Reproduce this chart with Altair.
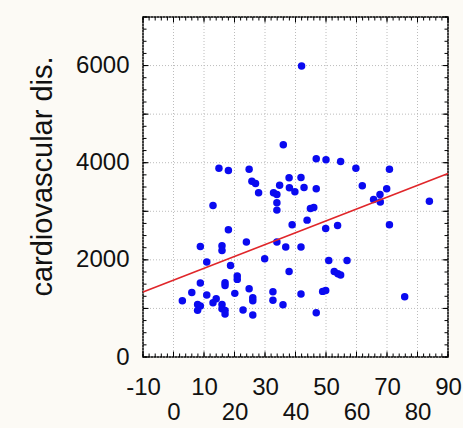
import altair as alt
import pandas as pd

# ---- data ----
x_vals = [42, 36.0, 46.8, 50.0, 54.8, 14.9, 18.0, 24.8, 59.8, 70.8,
          37.9, 41.8, 25.7, 26.9, 34.8, 38.0, 42.8, 46.8, 61.9, 69.9,
          27.9, 32.8, 33.9, 39.8, 67.7, 65.6, 67.8, 83.9, 33.9, 12.95,
          33.9, 44.9, 46.0, 43.8, 18.0, 38.9, 49.9, 53.8, 70.8, 23.9,
          33.9, 8.8, 15.9, 15.9, 36.8, 41.8, 29.9, 10.9, 50.9, 56.9,
          18.7, 37.9, 52.7, 53.9, 54.8, 20.9, 20.9, 8.8, 16.9, 16.9,
          24.8, 6.0, 20.1, 32.6, 48.9, 49.9, 10.9, 41.8, 75.8, 2.9,
          14.0, 12.95, 26.0, 26.0, 32.6, 7.9, 8.8, 15.9, 35.9, 7.9,
          15.9, 16.9, 16.9, 22.8, 26.0, 46.8]
y_vals = [5990, 4368, 4080, 4059, 4025, 3888, 3840, 3867, 3888, 3867,
          3689, 3696, 3620, 3573, 3538, 3483, 3490, 3463, 3524, 3463,
          3381, 3381, 3346, 3401, 3346, 3243, 3189, 3209, 3175, 3120,
          3024, 3058, 3079, 2818, 2619, 2722, 2647, 2709, 2722, 2366,
          2366, 2277, 2290, 2194, 2263, 2263, 2023, 1954, 1989, 1989,
          1886, 1762, 1762, 1714, 1687, 1666, 1598, 1522, 1529, 1474,
          1406, 1330, 1310, 1344, 1351, 1371, 1275, 1296, 1241, 1159,
          1200, 1118, 1221, 1159, 1166, 1083, 1049, 1083, 1077, 960,
          994, 960, 885, 967, 864, 912]

line_x = [-10, 90]
line_y = [1337, 3778]

x_domain = [-10, 90]
y_domain = [0, 7000]
x_tens = list(range(-10, 91, 10))
x_even = [0, 20, 40, 60, 80]
x_minor = list(range(-10, 91, 2))
y_thousands = list(range(0, 7001, 1000))
y_minor = list(range(0, 7001, 250))
y_title = "cardiovascular dis."

W, H = 305, 340

pts = pd.DataFrame({"x": x_vals, "y": y_vals})
reg = pd.DataFrame({"x": line_x, "y": line_y})
xt = pd.DataFrame({"x": x_tens})
xm = pd.DataFrame({"x": x_minor})
yt = pd.DataFrame({"y": y_thousands})
ym = pd.DataFrame({"y": y_minor})

FONT = "Liberation Sans"
LBL = 24
XS = alt.Scale(domain=x_domain, nice=False, zero=False)
YS = alt.Scale(domain=y_domain, nice=False, zero=False)


def xenc(axis=None):
    return alt.X("x:Q", scale=XS, axis=axis)


def yenc(axis=None):
    return alt.Y("y:Q", scale=YS, axis=axis)


x_row1 = alt.Axis(orient="bottom", values=x_tens,
                  labelExpr="abs(datum.value) % 20 == 10 ? '' + datum.value : ''",
                  labelPadding=18, ticks=False, tickSize=0, domain=False, grid=False,
                  labelFont=FONT, labelFontSize=LBL, labelColor="#111111",
                  labelOverlap=False, labelFlush=False, title=None)
x_row2 = alt.Axis(orient="bottom", values=x_even,
                  labelExpr="'' + datum.value",
                  labelPadding=43, ticks=False, tickSize=0, domain=False, grid=False,
                  labelFont=FONT, labelFontSize=LBL, labelColor="#111111",
                  labelOverlap=False, labelFlush=False, title=None)
y_lab = alt.Axis(orient="left", values=y_thousands,
                 labelExpr="datum.value % 2000 == 0 ? '' + datum.value : ''",
                 labelPadding=14, ticks=False, tickSize=0, domain=False, grid=False,
                 labelFont=FONT, labelFontSize=LBL, labelColor="#111111",
                 labelOverlap=False, labelFlush=False,
                 title=y_title, titleFont=FONT, titleFontSize=29,
                 titleFontWeight="normal", titleColor="#111111",
                 titleX=-101, titleY=159, titleAlign="center",
                 titleBaseline="middle")

GRID = dict(color="#bcbcbc", strokeDash=[1, 2], strokeWidth=1)
grid_x = alt.Chart(xt).mark_rule(**GRID).encode(x=xenc())
grid_y = alt.Chart(yt).mark_rule(**GRID).encode(y=yenc())

TK = dict(color="black", strokeWidth=1)
t_left_m = alt.Chart(ym).mark_rule(**TK).encode(y=yenc(), x=alt.value(0), x2=alt.value(3.5))
t_left_M = alt.Chart(yt).mark_rule(**TK).encode(y=yenc(), x=alt.value(0), x2=alt.value(5.5))
t_right_m = alt.Chart(ym).mark_rule(**TK).encode(y=yenc(), x=alt.value(W), x2=alt.value(W - 3.5))
t_right_M = alt.Chart(yt).mark_rule(**TK).encode(y=yenc(), x=alt.value(W), x2=alt.value(W - 5.5))
t_bot_m = alt.Chart(xm).mark_rule(**TK).encode(x=xenc(), y=alt.value(H), y2=alt.value(H - 3.5))
t_bot_M = alt.Chart(xt).mark_rule(**TK).encode(x=xenc(), y=alt.value(H), y2=alt.value(H - 5.5))
t_top_m = alt.Chart(xm).mark_rule(**TK).encode(x=xenc(), y=alt.value(0), y2=alt.value(3.5))
t_top_M = alt.Chart(xt).mark_rule(**TK).encode(x=xenc(), y=alt.value(0), y2=alt.value(5.5))

points = alt.Chart(pts).mark_circle(size=56, opacity=1, color="#0a0af0").encode(
    x=xenc(x_row1), y=yenc(y_lab))

line = alt.Chart(reg).mark_line(color="#e0262a", strokeWidth=1.6).encode(
    x=xenc(x_row2), y=yenc())

chart = alt.layer(
    grid_x, grid_y,
    t_left_m, t_left_M, t_right_m, t_right_M,
    t_bot_m, t_bot_M, t_top_m, t_top_M,
    points, line
).resolve_axis(
    x="independent", y="independent"
).properties(
    width=W, height=H,
    padding={"left": 143, "top": 17, "right": 15, "bottom": 71},
    autosize=alt.AutoSizeParams(type="none"),
    background="#fcfaf5",
).configure_view(
    stroke="black", strokeWidth=1.5, fill="white"
)

chart.save("out.html", embed_options={"renderer": "svg", "actions": False})
